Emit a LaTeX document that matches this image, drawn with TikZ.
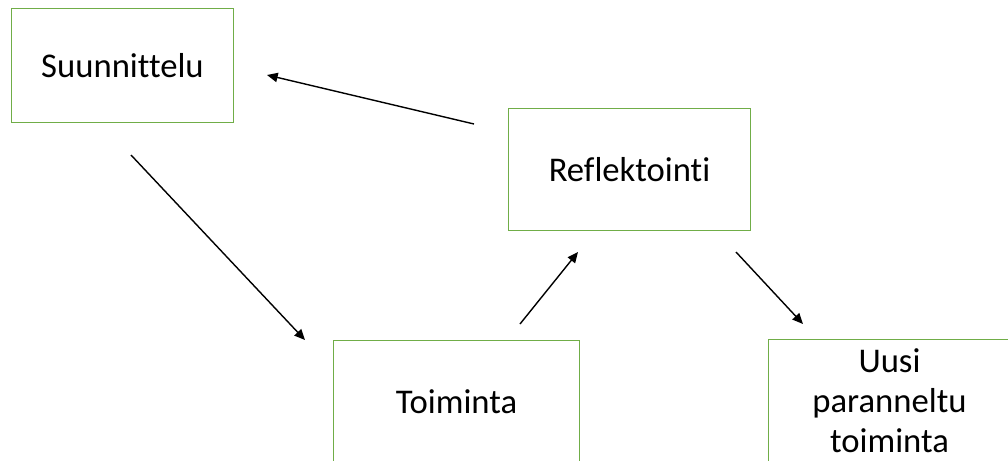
\documentclass[tikz,border=0pt]{standalone}
\usepackage{fontspec}
\setmainfont{Carlito}[Ligatures=NoCommon]
\usetikzlibrary{arrows.meta}
\definecolor{boxgreen}{RGB}{112,173,71}
\begin{document}
\begin{tikzpicture}[x=0.75pt,y=-0.75pt,
		box/.style={draw=boxgreen,line width=0.9pt,align=center,inner sep=0pt,
			font=\fontsize{26}{30}\selectfont},
		arr/.style={-{Triangle[length=8pt,width=7pt]},line width=1.05pt}]
		\useasboundingbox (0,0) rectangle (1008,461);
		\node[box,minimum width=167pt,minimum height=86pt] (plan) at (122.5,65.5) {Suunnittelu};
		\node[box,minimum width=182pt,minimum height=91pt] (refl) at (629.5,169.5) {Reflektointi};
		\node[box,minimum width=184pt,minimum height=91pt] (act) at (456.5,401.5) {Toiminta};
		\node[box,minimum width=182pt,minimum height=91pt] (newact) at (889.5,400.5) {Uusi\\paranneltu\\toiminta};
		
		\coordinate (refl-out1) at (474,124);
		\coordinate (plan-in) at (267,75);
		\coordinate (plan-out) at (131,155);
		\coordinate (act-in) at (305,340);
		\coordinate (act-out) at (520,324);
		\coordinate (refl-in) at (578,252);
		\coordinate (refl-out2) at (736,252);
		\coordinate (newact-in) at (803,324);
		
		\draw[arr] (refl-out1) -- (plan-in);
		\draw[arr] (plan-out) -- (act-in);
		\draw[arr] (act-out) -- (refl-in);
		\draw[arr] (refl-out2) -- (newact-in);
\end{tikzpicture}
\end{document}
